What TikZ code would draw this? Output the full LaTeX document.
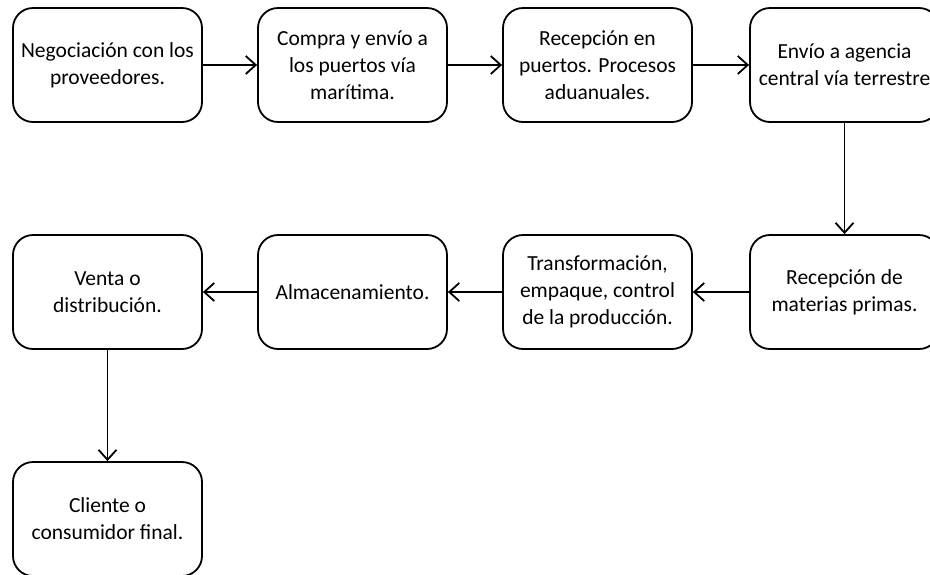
\documentclass[tikz,border=0pt]{standalone}
\usepackage{fontspec}
\setmainfont{Carlito}
\usetikzlibrary{arrows.meta}
\begin{document}
\begin{tikzpicture}[x=1pt,y=-1pt,
  stepbox/.style={draw=black, line width=1.8pt, rounded corners=20pt, fill=white,
    minimum width=189pt, minimum height=114pt, inner sep=0pt, align=center,
    font=\fontsize{21.5}{27}\selectfont},
  conn/.style={line width=1.8pt, -{Straight Barb[length=10pt,width=18pt,line width=1.8pt]}}]
\useasboundingbox (0,0) rectangle (930,574);
\node[stepbox] (n1) at (107.5,65) {Negociación con los\\proveedores.};
\node[stepbox] (n2) at (352.5,65) {Compra y envío a\\los puertos vía\\marítima.};
\node[stepbox] (n3) at (597.5,65) {Recepción en\\puertos. Procesos\\aduanuales.};
\node[stepbox] (n4) at (844.5,65) {Envío a agencia\\central vía terrestre};
\node[stepbox] (n5) at (844.5,292) {Recepción de\\materias primas.};
\node[stepbox] (n6) at (597.5,292) {Transformación,\\empaque, control\\de la producción.};
\node[stepbox] (n7) at (352.5,292) {Almacenamiento.};
\node[stepbox] (n8) at (107.5,292) {Venta o\\distribución.};
\node[stepbox] (n9) at (107.5,519) {Cliente o\\consumidor final.};
\draw[conn] (n1) -- (n2);
\draw[conn] (n2) -- (n3);
\draw[conn] (n3) -- (n4);
\draw[conn] (n4) -- (n5);
\draw[conn] (n5) -- (n6);
\draw[conn] (n6) -- (n7);
\draw[conn] (n7) -- (n8);
\draw[conn] (n8) -- (n9);
\end{tikzpicture}
\end{document}
